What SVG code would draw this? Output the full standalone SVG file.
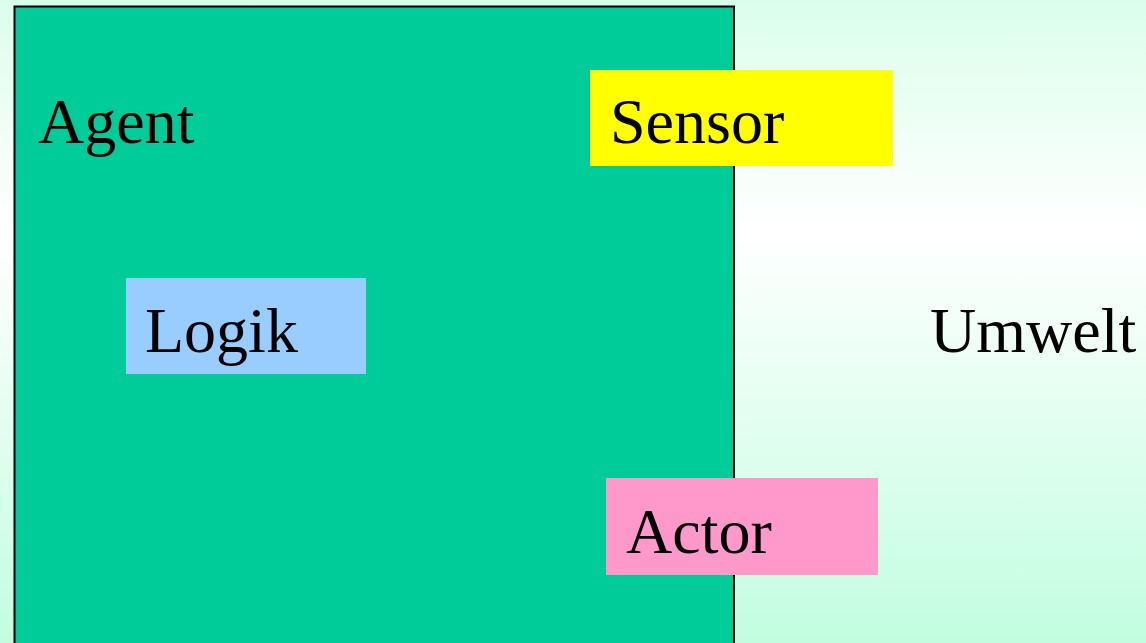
<svg xmlns="http://www.w3.org/2000/svg" width="1146" height="643" viewBox="0 0 1146 643">
<defs>
<linearGradient id="bg" x1="0" y1="0" x2="0" y2="1">
<stop offset="0" stop-color="#dbfeeb"/>
<stop offset="0.36" stop-color="#ffffff"/>
<stop offset="1" stop-color="#c2fde0"/>
</linearGradient>
<style>
text{font-family:"Liberation Serif","Times New Roman",serif;font-size:64px;fill:#000}
</style>
</defs>
<rect x="0" y="0" width="1146" height="643" fill="url(#bg)"/>
<g id="agent">
<rect x="14.5" y="6.5" width="719.5" height="650" fill="#00cc99" stroke="#000" stroke-width="2"/>
<text x="38" y="143">Agent</text>
</g>
<g id="sensor">
<rect x="590" y="70" width="303" height="96" fill="#ffff00"/>
<text x="610" y="143">Sensor</text>
</g>
<g id="logik">
<rect x="126" y="278" width="240" height="96" fill="#99ccff"/>
<text x="145" y="352">Logik</text>
</g>
<g id="actor">
<rect x="606" y="478" width="272" height="97" fill="#ff99cc"/>
<text x="626" y="553">Actor</text>
</g>
<g id="umwelt">
<text x="930" y="352">Umwelt</text>
</g>
<g id="connectors"/>
</svg>
